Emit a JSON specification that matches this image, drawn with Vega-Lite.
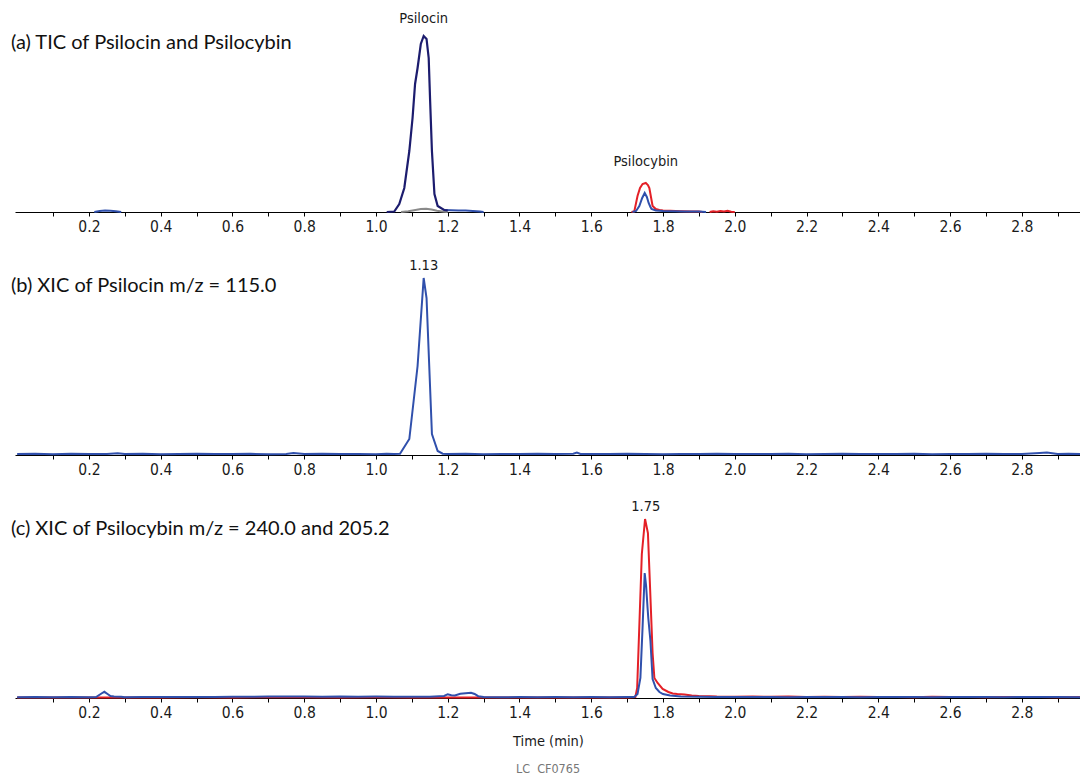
{
  "$schema": "https://vega.github.io/schema/vega-lite/v6.json",
  "padding": {"left": 10, "top": 11, "right": 0, "bottom": 0},
  "bounds": "flush",
  "spacing": 43,
  "title": {"text": "LC\u00a0 CF0765", "orient": "bottom", "anchor": "middle", "fontSize": 12.5, "fontWeight": "normal", "color": "#777777", "font": "Liberation Sans Narrow, DejaVu Sans Condensed, sans-serif", "offset": 15},
  "config": {
    "view": {"stroke": null},
    "axis": {"grid": false, "domainColor": "#000000", "tickColor": "#000000", "labelFont": "Liberation Sans Narrow, DejaVu Sans Condensed, sans-serif", "labelFontSize": 15.5, "labelColor": "#1a1a1a", "titleFont": "Liberation Sans Narrow, DejaVu Sans Condensed, sans-serif", "titleFontSize": 14.5, "titleFontWeight": "normal", "titleColor": "#1a1a1a"},
    "line": {"strokeWidth": 2}
  },
  "datasets": {
    "a_navy": [
      {"t": 1.03, "v": 0}, {"t": 1.051, "v": 0.5}, {"t": 1.065, "v": 8}, {"t": 1.079, "v": 24}, {"t": 1.093, "v": 61}, {"t": 1.102, "v": 94}, {"t": 1.109, "v": 128}, {"t": 1.116, "v": 144}, {"t": 1.125, "v": 168}, {"t": 1.133, "v": 176}, {"t": 1.141, "v": 173}, {"t": 1.147, "v": 154}, {"t": 1.151, "v": 111}, {"t": 1.156, "v": 61}, {"t": 1.163, "v": 18}, {"t": 1.172, "v": 6}, {"t": 1.19, "v": 2}, {"t": 1.2, "v": 1.5}
    ],
    "a_gray": [
      {"t": 1.07, "v": 0}, {"t": 1.09, "v": 0.8}, {"t": 1.11, "v": 2}, {"t": 1.125, "v": 3}, {"t": 1.14, "v": 3.2}, {"t": 1.155, "v": 2.5}, {"t": 1.17, "v": 1.2}, {"t": 1.19, "v": 0.3}, {"t": 1.2, "v": 0}
    ],
    "a_blue": [
      {"g": "b1", "t": 0.215, "v": 0}, {"g": "b1", "t": 0.23, "v": 1}, {"g": "b1", "t": 0.245, "v": 1.5}, {"g": "b1", "t": 0.26, "v": 1.3}, {"g": "b1", "t": 0.275, "v": 0.8}, {"g": "b1", "t": 0.29, "v": 0},
      {"g": "b2", "t": 1.19, "v": 2}, {"g": "b2", "t": 1.21, "v": 1.8}, {"g": "b2", "t": 1.23, "v": 1.6}, {"g": "b2", "t": 1.25, "v": 1.4}, {"g": "b2", "t": 1.27, "v": 1}, {"g": "b2", "t": 1.29, "v": 0.5}, {"g": "b2", "t": 1.3, "v": 0},
      {"g": "b3", "t": 1.715, "v": 0}, {"g": "b3", "t": 1.725, "v": 1}, {"g": "b3", "t": 1.734, "v": 6}, {"g": "b3", "t": 1.742, "v": 14}, {"g": "b3", "t": 1.749, "v": 19}, {"g": "b3", "t": 1.755, "v": 15}, {"g": "b3", "t": 1.76, "v": 9}, {"g": "b3", "t": 1.765, "v": 5}, {"g": "b3", "t": 1.768, "v": 3}, {"g": "b3", "t": 1.78, "v": 1.5}, {"g": "b3", "t": 1.8, "v": 1}, {"g": "b3", "t": 1.83, "v": 0.8}, {"g": "b3", "t": 1.86, "v": 0.6}, {"g": "b3", "t": 1.9, "v": 0.4}, {"g": "b3", "t": 1.92, "v": 0}
    ],
    "a_red": [
      {"g": "r1", "t": 1.712, "v": 0}, {"g": "r1", "t": 1.72, "v": 0.5}, {"g": "r1", "t": 1.729, "v": 16}, {"g": "r1", "t": 1.736, "v": 24}, {"g": "r1", "t": 1.743, "v": 28}, {"g": "r1", "t": 1.752, "v": 29}, {"g": "r1", "t": 1.758, "v": 27}, {"g": "r1", "t": 1.762, "v": 24}, {"g": "r1", "t": 1.767, "v": 14}, {"g": "r1", "t": 1.771, "v": 6}, {"g": "r1", "t": 1.78, "v": 3}, {"g": "r1", "t": 1.79, "v": 2}, {"g": "r1", "t": 1.8, "v": 1.5}, {"g": "r1", "t": 1.82, "v": 1.2}, {"g": "r1", "t": 1.85, "v": 0.8}, {"g": "r1", "t": 1.88, "v": 0.6}, {"g": "r1", "t": 1.9, "v": 0.4}, {"g": "r1", "t": 1.91, "v": 0},
      {"g": "r2", "t": 1.93, "v": 0}, {"g": "r2", "t": 1.94, "v": 0.8}, {"g": "r2", "t": 1.95, "v": 0.3}, {"g": "r2", "t": 1.96, "v": 1}, {"g": "r2", "t": 1.97, "v": 0.6}, {"g": "r2", "t": 1.98, "v": 1.2}, {"g": "r2", "t": 1.99, "v": 0.3}, {"g": "r2", "t": 2.0, "v": 0}
    ],
    "b_blue": [
      {"t": 0.0, "v": 1}, {"t": 0.05, "v": 1.2}, {"t": 0.1, "v": 0.8}, {"t": 0.15, "v": 1.3}, {"t": 0.2, "v": 1}, {"t": 0.25, "v": 1.1}, {"t": 0.28, "v": 1.8}, {"t": 0.3, "v": 0.9}, {"t": 0.35, "v": 1.2}, {"t": 0.4, "v": 0.8}, {"t": 0.45, "v": 1.1}, {"t": 0.5, "v": 1.3}, {"t": 0.55, "v": 0.9}, {"t": 0.6, "v": 1}, {"t": 0.65, "v": 1.2}, {"t": 0.7, "v": 0.8}, {"t": 0.75, "v": 1.1}, {"t": 0.77, "v": 2}, {"t": 0.8, "v": 1}, {"t": 0.85, "v": 1.2}, {"t": 0.9, "v": 0.9}, {"t": 0.95, "v": 1.1}, {"t": 1.0, "v": 0.8}, {"t": 1.03, "v": 1.2}, {"t": 1.05, "v": 1}, {"t": 1.067, "v": 1.3}, {"t": 1.093, "v": 16}, {"t": 1.105, "v": 54}, {"t": 1.116, "v": 89}, {"t": 1.133, "v": 177}, {"t": 1.141, "v": 157}, {"t": 1.156, "v": 21}, {"t": 1.172, "v": 4}, {"t": 1.186, "v": 1.3}, {"t": 1.2, "v": 1}, {"t": 1.25, "v": 1.2}, {"t": 1.3, "v": 0.8}, {"t": 1.35, "v": 1.1}, {"t": 1.4, "v": 1}, {"t": 1.45, "v": 1.2}, {"t": 1.5, "v": 0.9}, {"t": 1.55, "v": 1.3}, {"t": 1.56, "v": 2.5}, {"t": 1.57, "v": 1}, {"t": 1.6, "v": 1.1}, {"t": 1.65, "v": 0.9}, {"t": 1.7, "v": 1.2}, {"t": 1.75, "v": 1}, {"t": 1.8, "v": 0.8}, {"t": 1.85, "v": 1.1}, {"t": 1.9, "v": 1}, {"t": 1.95, "v": 1.2}, {"t": 2.0, "v": 0.9}, {"t": 2.05, "v": 1.1}, {"t": 2.1, "v": 1}, {"t": 2.15, "v": 1.2}, {"t": 2.2, "v": 0.8}, {"t": 2.25, "v": 1}, {"t": 2.3, "v": 1.2}, {"t": 2.35, "v": 0.9}, {"t": 2.4, "v": 1.1}, {"t": 2.45, "v": 1}, {"t": 2.5, "v": 1.2}, {"t": 2.55, "v": 0.8}, {"t": 2.6, "v": 1.1}, {"t": 2.65, "v": 1}, {"t": 2.7, "v": 1.2}, {"t": 2.75, "v": 0.9}, {"t": 2.8, "v": 1.1}, {"t": 2.85, "v": 2}, {"t": 2.87, "v": 2.5}, {"t": 2.9, "v": 1}, {"t": 2.93, "v": 1.2}, {"t": 2.965, "v": 1}
    ],
    "c_red": [
      {"t": 0.0, "v": 0.4}, {"t": 0.1, "v": 0.6}, {"t": 0.2, "v": 0.5}, {"t": 0.3, "v": 0.6}, {"t": 0.4, "v": 0.5}, {"t": 0.5, "v": 0.7}, {"t": 0.6, "v": 0.6}, {"t": 0.7, "v": 0.8}, {"t": 0.8, "v": 0.7}, {"t": 0.9, "v": 0.6}, {"t": 1.0, "v": 0.7}, {"t": 1.1, "v": 0.6}, {"t": 1.2, "v": 0.5}, {"t": 1.3, "v": 0.6}, {"t": 1.4, "v": 0.5}, {"t": 1.5, "v": 0.6}, {"t": 1.6, "v": 0.5}, {"t": 1.7, "v": 0.6}, {"t": 1.715, "v": 0.8}, {"t": 1.723, "v": 1}, {"t": 1.728, "v": 10}, {"t": 1.741, "v": 144}, {"t": 1.75, "v": 179}, {"t": 1.758, "v": 165}, {"t": 1.764, "v": 110}, {"t": 1.771, "v": 45}, {"t": 1.776, "v": 20}, {"t": 1.785, "v": 15}, {"t": 1.799, "v": 9}, {"t": 1.815, "v": 6}, {"t": 1.827, "v": 4.5}, {"t": 1.84, "v": 4}, {"t": 1.86, "v": 3.5}, {"t": 1.88, "v": 2.5}, {"t": 1.9, "v": 2}, {"t": 1.93, "v": 1.8}, {"t": 1.95, "v": 1.5}, {"t": 2.0, "v": 1.3}, {"t": 2.05, "v": 1.5}, {"t": 2.1, "v": 1.2}, {"t": 2.15, "v": 1.4}, {"t": 2.2, "v": 1.1}, {"t": 2.25, "v": 1.3}, {"t": 2.3, "v": 1}, {"t": 2.35, "v": 1.2}, {"t": 2.4, "v": 0.9}, {"t": 2.45, "v": 1.1}, {"t": 2.5, "v": 0.8}, {"t": 2.55, "v": 1.2}, {"t": 2.6, "v": 0.9}, {"t": 2.65, "v": 1.1}, {"t": 2.7, "v": 0.8}, {"t": 2.75, "v": 1}, {"t": 2.8, "v": 0.9}, {"t": 2.85, "v": 1.1}, {"t": 2.9, "v": 0.8}, {"t": 2.965, "v": 1}
    ],
    "c_blue": [
      {"t": 0.0, "v": 0.8}, {"t": 0.05, "v": 1}, {"t": 0.1, "v": 0.7}, {"t": 0.15, "v": 1}, {"t": 0.2, "v": 0.8}, {"t": 0.22, "v": 1}, {"t": 0.235, "v": 4.5}, {"t": 0.243, "v": 6.2}, {"t": 0.252, "v": 4}, {"t": 0.26, "v": 2}, {"t": 0.27, "v": 1.5}, {"t": 0.29, "v": 1.2}, {"t": 0.3, "v": 0.8}, {"t": 0.35, "v": 1}, {"t": 0.4, "v": 0.9}, {"t": 0.45, "v": 1}, {"t": 0.5, "v": 1.1}, {"t": 0.55, "v": 1}, {"t": 0.6, "v": 1.2}, {"t": 0.65, "v": 1.3}, {"t": 0.7, "v": 1.5}, {"t": 0.75, "v": 1.4}, {"t": 0.8, "v": 1.5}, {"t": 0.85, "v": 1.3}, {"t": 0.9, "v": 1.5}, {"t": 0.95, "v": 1.3}, {"t": 1.0, "v": 1.4}, {"t": 1.05, "v": 1.3}, {"t": 1.1, "v": 1.2}, {"t": 1.15, "v": 1.3}, {"t": 1.19, "v": 2}, {"t": 1.2, "v": 3.8}, {"t": 1.21, "v": 2.8}, {"t": 1.22, "v": 2.5}, {"t": 1.235, "v": 4.2}, {"t": 1.25, "v": 4.8}, {"t": 1.265, "v": 5.2}, {"t": 1.275, "v": 4}, {"t": 1.285, "v": 1.8}, {"t": 1.3, "v": 1}, {"t": 1.35, "v": 0.8}, {"t": 1.4, "v": 0.9}, {"t": 1.45, "v": 0.8}, {"t": 1.5, "v": 0.9}, {"t": 1.55, "v": 0.8}, {"t": 1.6, "v": 0.9}, {"t": 1.65, "v": 0.8}, {"t": 1.7, "v": 0.9}, {"t": 1.72, "v": 1}, {"t": 1.729, "v": 4}, {"t": 1.737, "v": 20}, {"t": 1.743, "v": 70}, {"t": 1.749, "v": 125}, {"t": 1.753, "v": 112}, {"t": 1.757, "v": 90}, {"t": 1.759, "v": 80}, {"t": 1.765, "v": 57}, {"t": 1.771, "v": 19}, {"t": 1.78, "v": 10}, {"t": 1.79, "v": 6}, {"t": 1.8, "v": 4}, {"t": 1.82, "v": 2.5}, {"t": 1.85, "v": 1.5}, {"t": 1.9, "v": 1.2}, {"t": 1.95, "v": 1}, {"t": 2.0, "v": 1.1}, {"t": 2.05, "v": 0.9}, {"t": 2.1, "v": 1}, {"t": 2.15, "v": 0.8}, {"t": 2.2, "v": 1}, {"t": 2.25, "v": 0.9}, {"t": 2.3, "v": 1}, {"t": 2.35, "v": 0.8}, {"t": 2.4, "v": 1}, {"t": 2.45, "v": 0.9}, {"t": 2.5, "v": 1}, {"t": 2.55, "v": 0.8}, {"t": 2.6, "v": 1}, {"t": 2.65, "v": 0.9}, {"t": 2.7, "v": 1}, {"t": 2.75, "v": 0.8}, {"t": 2.8, "v": 1}, {"t": 2.85, "v": 0.9}, {"t": 2.9, "v": 1}, {"t": 2.965, "v": 0.8}
    ],
    "a_text": [
      {"t": -0.0173, "v": 169, "label": "(a) TIC of Psilocin and Psilocybin", "k": "title"},
      {"t": 1.133, "v": 193, "label": "Psilocin", "k": "peak"},
      {"t": 1.752, "v": 50, "label": "Psilocybin", "k": "peak"}
    ],
    "b_text": [
      {"t": -0.0173, "v": 169, "label": "(b) XIC of Psilocin m/z = 115.0", "k": "title"},
      {"t": 1.133, "v": 189, "label": "1.13", "k": "peak"}
    ],
    "c_text": [
      {"t": -0.0173, "v": 169, "label": "(c) XIC of Psilocybin m/z = 240.0 and 205.2", "k": "title"},
      {"t": 1.752, "v": 191, "label": "1.75", "k": "peak"}
    ]
  },
  "vconcat": [
    {
      "width": 1066, "height": 200,
      "encoding": {
        "x": {"field": "t", "type": "quantitative", "scale": {"domain": [-0.006, 2.965], "nice": false, "zero": false}, "axis": {"title": null, "values": [0.1,0.2,0.3,0.4,0.5,0.6,0.7,0.8,0.9,1.0,1.1,1.2,1.3,1.4,1.5,1.6,1.7,1.8,1.9,2.0,2.1,2.2,2.3,2.4,2.5,2.6,2.7,2.8,2.9], "labelExpr": "round(datum.value*10) % 2 == 0 ? format(datum.value, '.1f') : ''", "tickSize": 4, "labelPadding": 3, "labelFlush": false, "labelOverlap": false}},
        "y": {"field": "v", "type": "quantitative", "scale": {"domain": [0, 200], "nice": false}, "axis": null}
      },
      "layer": [
        {"data": {"name": "a_gray"}, "mark": {"type": "line", "color": "#8a8a8a"}},
        {"data": {"name": "a_red"}, "mark": {"type": "line", "color": "#e42027"}, "encoding": {"detail": {"field": "g"}}},
        {"data": {"name": "a_blue"}, "mark": {"type": "line", "color": "#3050ac"}, "encoding": {"detail": {"field": "g"}}},
        {"data": {"name": "a_navy"}, "mark": {"type": "line", "color": "#1c1c6e", "strokeWidth": 2.2}},
        {"data": {"name": "a_text"}, "transform": [{"filter": "datum.k == 'title'"}], "mark": {"type": "text", "align": "left", "baseline": "middle", "font": "Lato, sans-serif", "fontSize": 20, "color": "#111111"}, "encoding": {"text": {"field": "label"}}},
        {"data": {"name": "a_text"}, "transform": [{"filter": "datum.k == 'peak'"}], "mark": {"type": "text", "align": "center", "baseline": "middle", "font": "Liberation Sans Narrow, DejaVu Sans Condensed, sans-serif", "fontSize": 14.5, "color": "#1a1a1a"}, "encoding": {"text": {"field": "label"}}}
      ]
    },
    {
      "width": 1066, "height": 200,
      "encoding": {
        "x": {"field": "t", "type": "quantitative", "scale": {"domain": [-0.006, 2.965], "nice": false, "zero": false}, "axis": {"title": null, "values": [0.1,0.2,0.3,0.4,0.5,0.6,0.7,0.8,0.9,1.0,1.1,1.2,1.3,1.4,1.5,1.6,1.7,1.8,1.9,2.0,2.1,2.2,2.3,2.4,2.5,2.6,2.7,2.8,2.9], "labelExpr": "round(datum.value*10) % 2 == 0 ? format(datum.value, '.1f') : ''", "tickSize": 4, "labelPadding": 3, "labelFlush": false, "labelOverlap": false}},
        "y": {"field": "v", "type": "quantitative", "scale": {"domain": [0, 200], "nice": false}, "axis": null}
      },
      "layer": [
        {"data": {"name": "b_blue"}, "mark": {"type": "line", "color": "#3050ac"}},
        {"data": {"name": "b_text"}, "transform": [{"filter": "datum.k == 'title'"}], "mark": {"type": "text", "align": "left", "baseline": "middle", "font": "Lato, sans-serif", "fontSize": 20, "color": "#111111"}, "encoding": {"text": {"field": "label"}}},
        {"data": {"name": "b_text"}, "transform": [{"filter": "datum.k == 'peak'"}], "mark": {"type": "text", "align": "center", "baseline": "middle", "font": "Liberation Sans Narrow, DejaVu Sans Condensed, sans-serif", "fontSize": 14.5, "color": "#1a1a1a"}, "encoding": {"text": {"field": "label"}}}
      ]
    },
    {
      "width": 1066, "height": 200,
      "encoding": {
        "x": {"field": "t", "type": "quantitative", "scale": {"domain": [-0.006, 2.965], "nice": false, "zero": false}, "axis": {"title": "Time (min)", "titlePadding": 14, "values": [0.1,0.2,0.3,0.4,0.5,0.6,0.7,0.8,0.9,1.0,1.1,1.2,1.3,1.4,1.5,1.6,1.7,1.8,1.9,2.0,2.1,2.2,2.3,2.4,2.5,2.6,2.7,2.8,2.9], "labelExpr": "round(datum.value*10) % 2 == 0 ? format(datum.value, '.1f') : ''", "tickSize": 4, "labelPadding": 3, "labelFlush": false, "labelOverlap": false}},
        "y": {"field": "v", "type": "quantitative", "scale": {"domain": [0, 200], "nice": false}, "axis": null}
      },
      "layer": [
        {"data": {"name": "c_red"}, "mark": {"type": "line", "color": "#e42027"}},
        {"data": {"name": "c_blue"}, "mark": {"type": "line", "color": "#3050ac"}},
        {"data": {"name": "c_text"}, "transform": [{"filter": "datum.k == 'title'"}], "mark": {"type": "text", "align": "left", "baseline": "middle", "font": "Lato, sans-serif", "fontSize": 20, "color": "#111111"}, "encoding": {"text": {"field": "label"}}},
        {"data": {"name": "c_text"}, "transform": [{"filter": "datum.k == 'peak'"}], "mark": {"type": "text", "align": "center", "baseline": "middle", "font": "Liberation Sans Narrow, DejaVu Sans Condensed, sans-serif", "fontSize": 14.5, "color": "#1a1a1a"}, "encoding": {"text": {"field": "label"}}}
      ]
    }
  ]
}
